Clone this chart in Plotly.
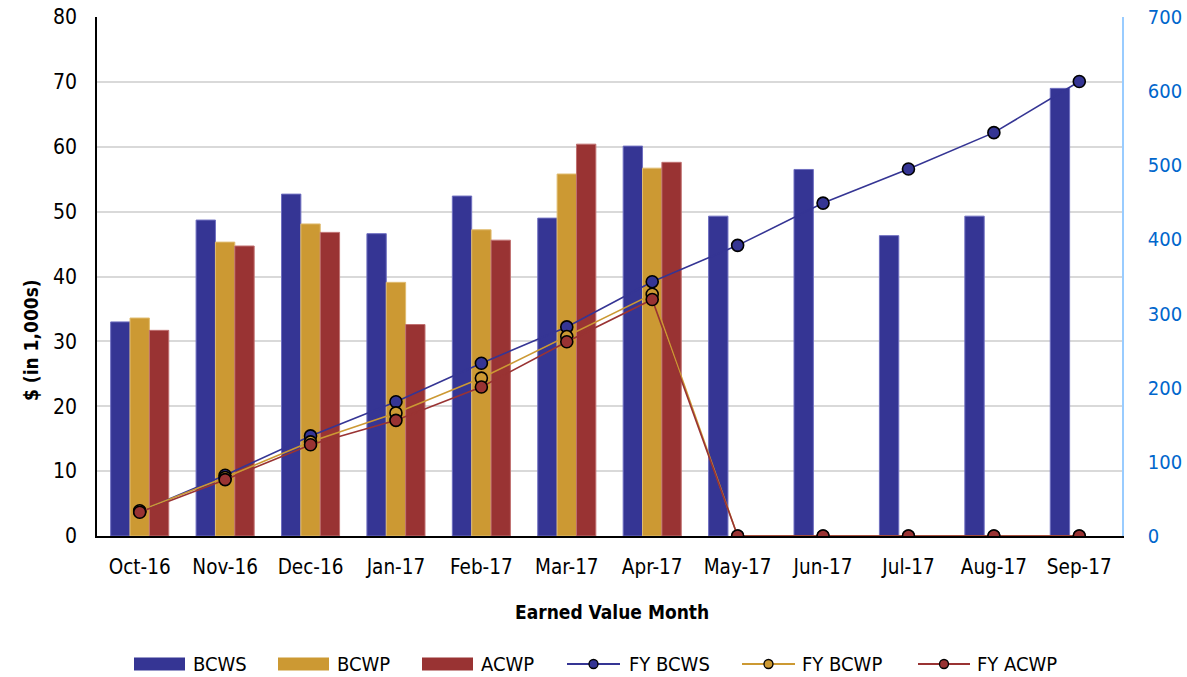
import plotly.graph_objects as go

months = ["Oct-16", "Nov-16", "Dec-16", "Jan-17", "Feb-17", "Mar-17",
          "Apr-17", "May-17", "Jun-17", "Jul-17", "Aug-17", "Sep-17"]

bcws = [33.0, 48.7, 52.7, 46.6, 52.4, 49.0, 60.1, 49.3, 56.5, 46.3, 49.3, 69.0]
bcwp = [33.6, 45.3, 48.1, 39.1, 47.2, 55.8, 56.7, None, None, None, None, None]
acwp = [31.7, 44.7, 46.8, 32.6, 45.6, 60.4, 57.6, None, None, None, None, None]

fy_bcws = [33, 82, 135, 181, 233, 282, 343, 392, 449, 495, 544, 613]
fy_bcwp = [34, 79, 127, 166, 213, 269, 326, 0, 0, 0, 0, 0]
fy_acwp = [32, 76, 123, 156, 201, 262, 319, 0, 0, 0, 0, 0]

C_BCWS = "#353594"
C_BCWP = "#CC9933"
C_ACWP = "#993333"
FONT = "'DejaVu Sans Condensed', 'DejaVu Sans', sans-serif"

W, H = 1187, 677
ML, MR, MT, MB = 97, 65, 17, 141
PW, PH = W - ML - MR, H - MT - MB


def px(x):
    return (x - ML) / PW


def py(y):
    return (H - MB - y) / PH


fig = go.Figure()
bar_specs = [("BCWS", bcws, C_BCWS, "#6F6FC0"),
             ("BCWP", bcwp, C_BCWP, "#E0BC70"),
             ("ACWP", acwp, C_ACWP, "#C07070")]
for name, vals, col, edge in bar_specs:
    fig.add_trace(go.Bar(x=months, y=vals, name=name, showlegend=False,
                         marker=dict(color=col, line=dict(color=edge, width=1))))

line_specs = [("FY BCWS", fy_bcws, C_BCWS),
              ("FY BCWP", fy_bcwp, C_BCWP),
              ("FY ACWP", fy_acwp, C_ACWP)]
for name, vals, col in line_specs:
    fig.add_trace(go.Scatter(x=months, y=vals, name=name, yaxis="y2",
                             mode="lines+markers", showlegend=False,
                             line=dict(color=col, width=1.6),
                             marker=dict(color=col, size=12,
                                         line=dict(color="black", width=1.6))))

# Legend drawn below the chart: swatch / line sample + label
shapes = []
annotations = []
LY = 664
bar_leg = [(134, 185, 191), (278, 329, 335), (422, 473, 479)]
for (x0, x1, tx), (name, _, col, _) in zip(bar_leg, bar_specs):
    shapes.append(dict(type="rect", xref="paper", yref="paper",
                       x0=px(x0), x1=px(x1), y0=py(LY + 6.5), y1=py(LY - 6.5),
                       fillcolor=col, line=dict(width=0)))
    annotations.append(dict(text=name, xref="paper", yref="paper", x=px(tx), y=py(LY),
                            xanchor="left", yanchor="middle", showarrow=False,
                            font=dict(size=20)))
line_leg = [(567, 620, 627), (742, 795, 800), (918, 970, 975)]
for (x0, x1, tx), (name, _, col) in zip(line_leg, line_specs):
    shapes.append(dict(type="line", xref="paper", yref="paper",
                       x0=px(x0), x1=px(x1), y0=py(LY), y1=py(LY),
                       line=dict(color=col, width=2)))
    cx = (x0 + x1) / 2
    shapes.append(dict(type="circle", xref="paper", yref="paper",
                       x0=px(cx - 4.5), x1=px(cx + 4.5), y0=py(LY + 4.5), y1=py(LY - 4.5),
                       fillcolor=col, line=dict(color="black", width=1.3)))
    annotations.append(dict(text=name, xref="paper", yref="paper", x=px(tx), y=py(LY),
                            xanchor="left", yanchor="middle", showarrow=False,
                            font=dict(size=20)))

# Axis titles
annotations.append(dict(text="<b>Earned Value Month</b>", xref="paper", yref="paper",
                        x=px(612), y=py(612), xanchor="center", yanchor="middle",
                        showarrow=False, font=dict(size=19)))
annotations.append(dict(text="<b>$ (in 1,000s)</b>", xref="paper", yref="paper",
                        x=px(31), y=py(340), xanchor="center", yanchor="middle",
                        textangle=-90, showarrow=False, font=dict(size=19)))

fig.update_layout(
    width=W, height=H,
    margin=dict(l=ML, r=MR, t=MT, b=MB),
    plot_bgcolor="white", paper_bgcolor="white",
    font=dict(family=FONT, size=20, color="black"),
    barmode="group", bargap=0.32, bargroupgap=0,
    showlegend=False,
    xaxis=dict(type="category", range=[-0.5, len(months) - 0.5],
               showline=True, linecolor="black", linewidth=1.5,
               ticks="", tickfont=dict(size=20.5), showgrid=False,
               ticklabelstandoff=12, automargin=False),
    yaxis=dict(range=[0, 80], dtick=10, showgrid=True, gridcolor="#D9D9D9",
               gridwidth=1.8, showline=True, linecolor="black", linewidth=1.5,
               ticks="", tickfont=dict(size=21), zeroline=False,
               ticklabelstandoff=14, automargin=False),
    yaxis2=dict(range=[0, 700], dtick=100, overlaying="y", side="right",
                showgrid=False, showline=True, linecolor="#99CCFF", linewidth=1.5,
                ticks="", tickfont=dict(size=20, color="#0066CC"), zeroline=False,
                ticklabelstandoff=20, automargin=False),
    shapes=shapes,
    annotations=annotations,
)

fig.write_html("out.html", config={"displayModeBar": False},
               post_script="document.body.style.margin='0';document.body.style.overflow='hidden';")
